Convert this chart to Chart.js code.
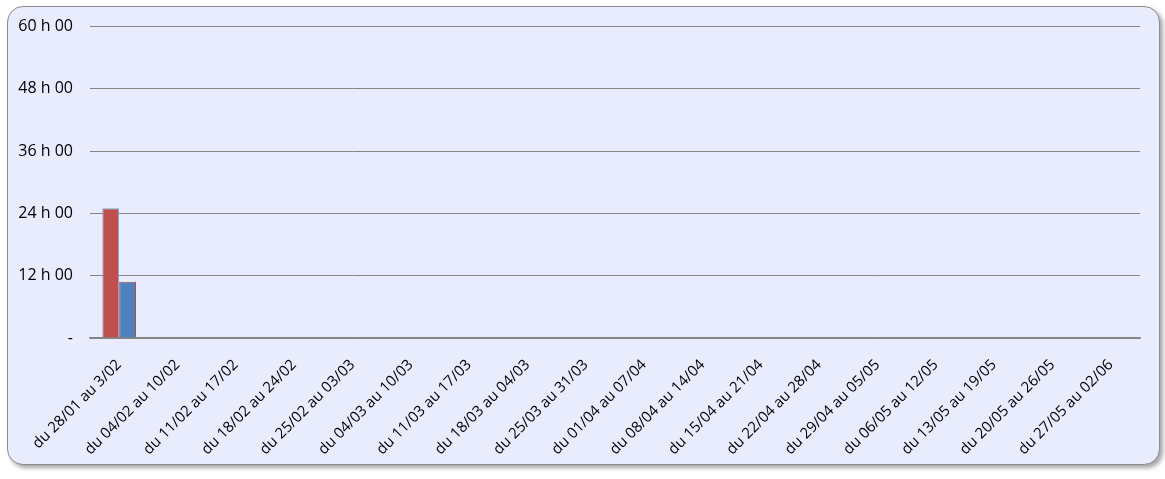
<!DOCTYPE html>
<html>
<head>
<meta charset="utf-8">
<script src="https://cdn.jsdelivr.net/npm/chart.js@4"></script>
<style>
  html, body { margin: 0; padding: 0; background: #ffffff; width: 1165px; height: 479px; overflow: hidden; }
  #frame {
    position: absolute; left: 7px; top: 6px; width: 1151px; height: 457px;
    background: #e9ecfd; border: 1.5px solid #8c8c8c; border-radius: 16px;
    box-shadow: 3px 3px 4px rgba(0,0,0,0.35);
  }
  #wrap { position: absolute; left: 0; top: 0; width: 1165px; height: 479px; }
</style>
</head>
<body>
<div id="frame"></div>
<div id="wrap"><canvas id="c" width="1165" height="479"></canvas></div>
<script>
const categories = [
  "du 28/01 au 3/02", "du 04/02 au 10/02", "du 11/02 au 17/02", "du 18/02 au 24/02",
  "du 25/02 au 03/03", "du 04/03 au 10/03", "du 11/03 au 17/03", "du 18/03 au 04/03",
  "du 25/03 au 31/03", "du 01/04 au 07/04", "du 08/04 au 14/04", "du 15/04 au 21/04",
  "du 22/04 au 28/04", "du 29/04 au 05/05", "du 06/05 au 12/05", "du 13/05 au 19/05",
  "du 20/05 au 26/05", "du 27/05 au 02/06"
];
// hours
const seriesRed  = [25.0, null, null, null, null, null, null, null, null, null, null, null, null, null, null, null, null, null];
const seriesBlue = [10.85, null, null, null, null, null, null, null, null, null, null, null, null, null, null, null, null, null];
const yTicks = [0, 12, 24, 36, 48, 60];

Chart.defaults.font.family = "'Open Sans', sans-serif";
Chart.defaults.font.size = 16;
Chart.defaults.color = "#000000";

new Chart(document.getElementById('c'), {
  type: 'bar',
  data: {
    labels: categories,
    datasets: [
      { label: 'A', data: seriesRed, backgroundColor: '#c0504d', borderColor: '#7fa3d6', borderWidth: 1,
        categoryPercentage: 0.578, barPercentage: 1.0 },
      { label: 'B', data: seriesBlue, backgroundColor: '#4f81bd', borderColor: '#b0504d', borderWidth: 1,
        categoryPercentage: 0.578, barPercentage: 1.0 }
    ]
  },
  options: {
    responsive: false,
    animation: false,
    events: [],
    layout: { padding: { left: 0, right: 25, top: 26, bottom: 0 } },
    plugins: { legend: { display: false }, tooltip: { enabled: false } },
    scales: {
      x: {
        grid: { display: false, drawTicks: false },
        border: { display: true, color: '#858585', width: 1.5 },
        ticks: { maxRotation: 45, minRotation: 45, padding: 18, autoSkip: false, font: { size: 15 } },
        afterFit: (s) => { s.height = 141; }
      },
      y: {
        min: 0, max: 60,
        afterBuildTicks: (s) => { s.ticks = yTicks.map(v => ({ value: v })); },
        grid: { color: '#858585', lineWidth: 1, drawTicks: false },
        border: { display: false },
        ticks: {
          padding: 17,
          callback: (v) => v === 0 ? '-' : v + ' h 00'
        },
        afterFit: (s) => { s.width = 90; }
      }
    }
  }
});
</script>
</body>
</html>
